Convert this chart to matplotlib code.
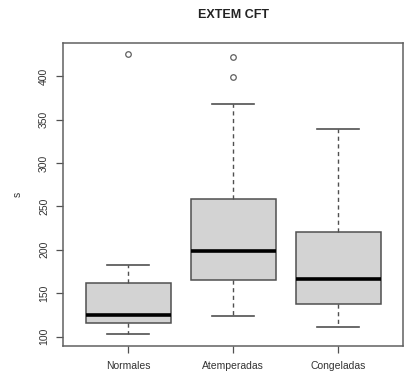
import matplotlib
matplotlib.use('Agg')
import matplotlib.pyplot as plt

# values (seconds)
categories = ['Normales', 'Atemperadas', 'Congeladas']
whislo = [103, 124, 111]
q1 = [116, 165, 138]
med = [125, 199, 166]
q3 = [162, 258, 221]
whishi = [182, 368, 339]
fliers = [[426], [399, 422], []]
yticks = [100, 150, 200, 250, 300, 350, 400]

plt.rcParams['font.family'] = ['Liberation Sans', 'DejaVu Sans']

fig = plt.figure(figsize=(4.04, 3.74), dpi=100)
ax = fig.add_axes([0.156, 0.076, 0.842, 0.809])

stats = []
for i in range(len(categories)):
    stats.append(dict(label=categories[i], whislo=whislo[i], q1=q1[i], med=med[i],
                      q3=q3[i], whishi=whishi[i], fliers=fliers[i]))

edge = '#505050'
ax.bxp(stats, positions=[1, 2, 3], widths=0.81, patch_artist=True,
       boxprops=dict(facecolor='#d3d3d3', edgecolor=edge, linewidth=1.1),
       medianprops=dict(color='black', linewidth=2.6, solid_capstyle='butt'),
       whiskerprops=dict(color=edge, linewidth=1.0, linestyle=(0, (3, 2.5))),
       capprops=dict(color=edge, linewidth=1.2),
       flierprops=dict(marker='o', markersize=4, markerfacecolor='none',
                       markeredgecolor='#606060', markeredgewidth=0.9),
       capwidths=0.4)

ax.set_xlim(0.38, 3.62)
ax.set_ylim(89.6, 438.4)
ax.set_yticks(yticks)
ax.set_yticklabels([str(t) for t in yticks], rotation=90, va='center', fontsize=7.5, color='#333333')
ax.set_xticks([1, 2, 3])
ax.set_xticklabels(categories, fontsize=7.5, color='#333333')
ax.tick_params(axis='both', length=5, width=0.9, color=edge)
ax.tick_params(axis='y', pad=5)
ax.tick_params(axis='x', pad=6)
for sp in ax.spines.values():
    sp.set_color('#606060')
    sp.set_linewidth(1.1)

ax.set_title('EXTEM CFT', fontsize=9, fontweight='bold', color='#222222', pad=18)
fig.text(0.045, 0.48, 's', rotation=90, fontsize=7.5, color='#333333', ha='center', va='center')

fig.savefig('out.png', dpi=100)
